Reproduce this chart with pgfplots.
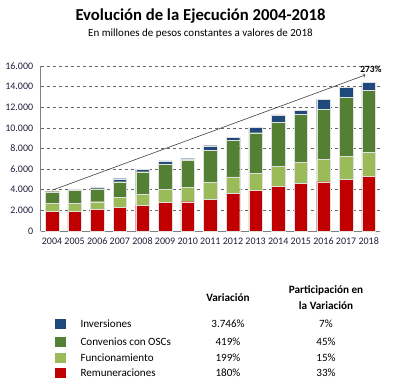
\documentclass[border=0pt]{standalone}
\usepackage{fontspec}
\setmainfont{Carlito}
\usepackage{pgfplots}
\pgfplotsset{compat=1.18}
\definecolor{cBlue}{RGB}{31,73,125}
\definecolor{cDG}{RGB}{83,128,50}
\definecolor{cLG}{RGB}{155,187,89}
\definecolor{cRed}{RGB}{192,0,0}
\definecolor{cTick}{RGB}{30,30,60}
\begin{document}
\begin{tikzpicture}[x=1pt,y=1pt]
\path[use as bounding box] (0,0) rectangle (399,391);
\node[font=\bfseries\fontsize{16.7}{19}\selectfont] at (200.5,375) {Evolución de la Ejecución 2004-2018};
\node[font=\fontsize{11}{13}\selectfont] at (200.5,357) {En millones de pesos constantes a valores de 2018};
\begin{axis}[
  at={(40.7pt,160pt)}, anchor=south west,
  scale only axis, width=339.3pt, height=165pt,
  ybar stacked, bar width=13.5pt,
  xmin=-0.5, xmax=14.5, ymin=0, ymax=16000,
  xtick={0,...,14},
  xticklabels={2004,2005,2006,2007,2008,2009,2010,2011,2012,2013,2014,2015,2016,2017,2018},
  ytick={0,2000,...,16000},
  scaled y ticks=false,
  yticklabels={0,{2.000},{4.000},{6.000},{8.000},{10.000},{12.000},{14.000},{16.000}},
  major tick length=0pt,
  ymajorgrids, grid style={dashed, black!60, line width=0.6pt},
  axis x line*=bottom, axis y line*=left,
  axis line style={black!50, line width=0.8pt, -},
  tick label style={font=\fontsize{10}{12}\selectfont, text=cTick},
  yticklabel style={xshift=-4pt},
  xticklabel style={yshift=-3pt},
  /pgf/number format/assume math mode=true,
  every axis plot/.append style={draw=black!12, line width=0.4pt},
  clip=false,
]
\addplot[fill=cRed] coordinates {(0,1880)(1,1890)(2,2100)(3,2260)(4,2520)(5,2750)(6,2840)(7,3100)(8,3620)(9,3910)(10,4360)(11,4590)(12,4780)(13,5010)(14,5330)};
\addplot[fill=cLG] coordinates {(0,800)(1,820)(2,740)(3,970)(4,1035)(5,1260)(6,1390)(7,1620)(8,1620)(9,1710)(10,1940)(11,2100)(12,2140)(13,2260)(14,2330)};
\addplot[fill=cDG] coordinates {(0,1130)(1,1260)(2,1260)(3,1550)(4,2195)(5,2490)(6,2650)(7,3130)(8,3550)(9,3910)(10,4270)(11,4590)(12,4910)(13,5660)(14,5980)};
\addplot[fill=cBlue] coordinates {(0,60)(1,50)(2,130)(3,290)(4,230)(5,290)(6,130)(7,420)(8,320)(9,490)(10,680)(11,390)(12,940)(13,970)(14,770)};
\draw[->, black!75, line width=0.6pt] (axis cs:0,3950) -- (axis cs:13.85,15130);
\node[font=\bfseries\fontsize{9.5}{11}\selectfont] at (axis cs:14.1,15650) {273\%};
\end{axis}
\node[font=\bfseries\fontsize{11.2}{13}\selectfont] at (228,93) {Variación};
\node[font=\bfseries\fontsize{11.2}{16}\selectfont, align=center] at (326,93) {Participación en\\la Variación};
\fill[cBlue] (55,62) rectangle (66,72);
\fill[cDG] (55,44) rectangle (66,54);
\fill[cLG] (55,28) rectangle (66,38);
\fill[cRed] (55,13) rectangle (66,23);
\begin{scope}[every node/.style={font=\fontsize{11.1}{13}\selectfont}]
\node[anchor=west] at (77,67) {Inversiones};
\node[anchor=west] at (77,49) {Convenios con OSCs};
\node[anchor=west] at (77,33) {Funcionamiento};
\node[anchor=west] at (77,18) {Remuneraciones};
\node at (228,67) {3.746\%};
\node at (228,49) {419\%};
\node at (228,33) {199\%};
\node at (228,18) {180\%};
\node at (326,67) {7\%};
\node at (326,49) {45\%};
\node at (326,33) {15\%};
\node at (326,18) {33\%};
\end{scope}
\end{tikzpicture}
\end{document}
